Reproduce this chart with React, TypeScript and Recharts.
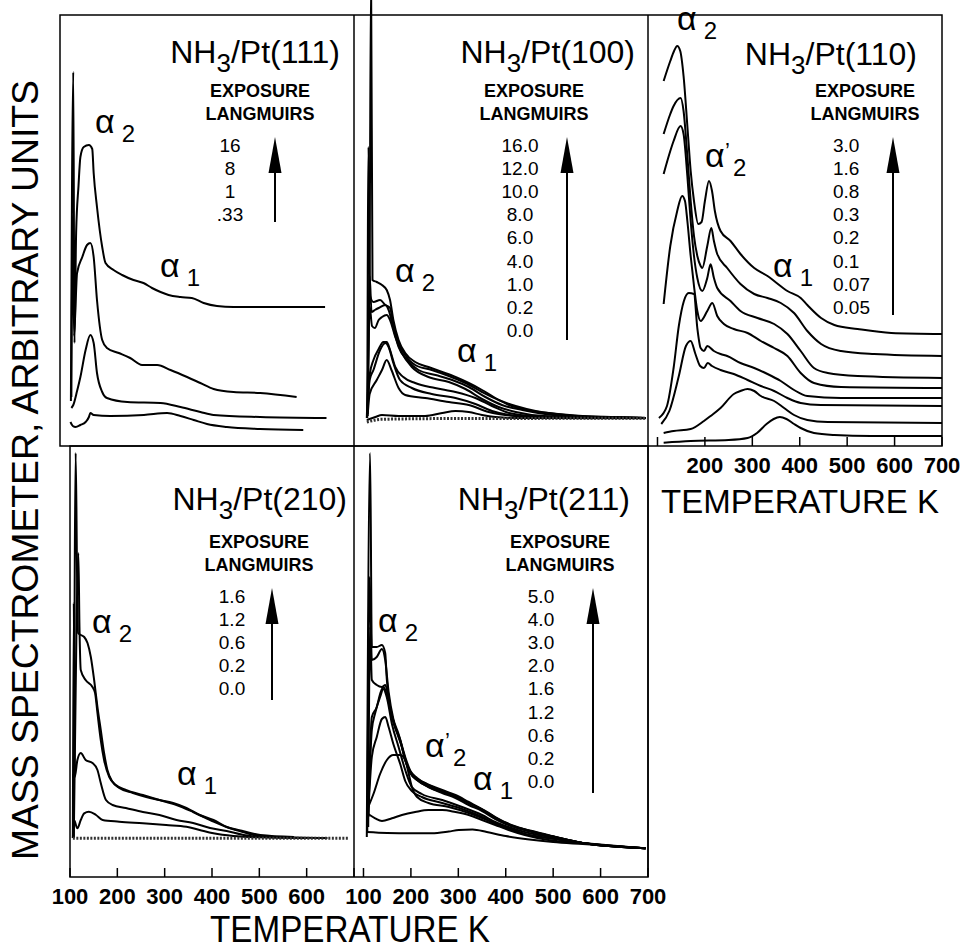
import React from 'react';
import { LineChart, Line, XAxis, YAxis } from 'recharts';

// ---------- tick values ----------
const tempTicks = [100, 200, 300, 400, 500, 600, 700];
const labels110 = [200, 300, 400, 500, 600, 700];
const labels210 = [100, 200, 300, 400, 500, 600];
const labels211 = [100, 200, 300, 400, 500, 600, 700];

// ---------- exposure legends ----------
const exp111 = ['16', '8', '1', '.33'];
const exp100 = ['16.0', '12.0', '10.0', '8.0', '6.0', '4.0', '1.0', '0.2', '0.0'];
const exp110 = ['3.0', '1.6', '0.8', '0.3', '0.2', '0.1', '0.07', '0.05'];
const exp210 = ['1.6', '1.2', '0.6', '0.2', '0.0'];
const exp211 = ['5.0', '4.0', '3.0', '2.0', '1.6', '1.2', '0.6', '0.2', '0.0'];

// ---------- series: [temperature K, signal (arb. units)] ----------
// NH3/Pt(111)
const pt111_16 = [[103,45],[108,374],[110.5,103],[114,213],[119,260],[123,289],[130,299],[141,301],[148,297],[151,273],[158,239],[169,199],[176,183],[193,176],[211,171],[235,166],[256,163],[274,158],[292,154],[309,151],[334,149],[358,148],[383,143],[411,140],[446,139],[502,139],[572,139],[639,139]];
const pt111_8 = [[104,49],[107,230],[109.5,110],[116,173],[127,189],[137,201],[144,203],[151,189],[158,146],[169,106],[179,98],[204,93],[228,88],[253,81],[285,81],[313,76],[348,69],[376,63],[404,57],[446,54],[502,53],[579,49]];
const pt111_1 = [[104,38],[108,41],[116,55],[123,69],[134,96],[144,111],[151,103],[158,73],[169,54],[179,48],[222,44],[292,43],[334,39],[376,34],[404,31],[502,29],[642,28]];
const pt111_033 = [[102,24],[107,20],[113,19],[123,21],[134,24],[141,29],[144,33],[151,31],[186,30],[257,31],[306,33],[334,30],[362,26],[390,22],[432,19],[502,17],[593,16]];

// NH3/Pt(100)
const pt100_16 = [[107,28],[113,200],[116,470],[119,166],[128,164],[139,161],[149,156],[156,146],[163,126],[174,106],[188,93],[209,84],[237,79],[266,74],[294,69],[322,63],[350,56],[378,48],[407,41],[442,36],[491,33],[562,30],[632,29],[695,28]];
const pt100_12 = [[108,28],[110.6,299],[114,150],[121,144],[135,146],[146,141],[156,138],[163,121],[174,103],[188,91],[209,81],[244,76],[280,70],[315,63],[350,54],[385,46],[421,40],[463,35],[526,31],[600,29],[695,28]];
const pt100_10 = [[109,30],[113,170],[117,134],[124,136],[132,138],[146,141],[153,136],[163,118],[174,99],[192,86],[216,76],[252,71],[287,66],[322,59],[357,49],[392,41],[435,36],[500,31],[600,29],[695,28]];
const pt100_8 = [[109,35],[113,140],[118,120],[124,118],[132,126],[139,129],[149,131],[156,126],[167,109],[181,93],[202,79],[237,69],[280,64],[315,57],[350,47],[385,39],[421,34],[480,30],[600,28.5],[695,28]];
const pt100_6 = [[109,40],[113,71],[121,86],[132,97],[142,104],[149,104],[156,96],[167,79],[184,69],[209,63],[251,58],[294,54],[336,48],[371,40],[407,33],[460,30],[600,28.5],[695,28]];
const pt100_4 = [[109,38],[113,66],[121,76],[135,96],[146,103],[153,99],[163,83],[177,66],[202,58],[244,52],[294,48],[336,42],[371,35],[407,31],[460,29],[600,28],[695,28]];
const pt100_1 = [[109,32],[113,52],[128,66],[139,76],[149,86],[159,76],[174,58],[188,51],[230,48],[280,44],[322,41],[364,34],[400,31],[450,29],[695,28]];
const pt100_02 = [[107,26],[125,29],[139,31],[174,30],[230,30],[266,33],[294,35],[322,34],[350,31],[378,29],[420,28],[695,27.7]];
const pt100_0 = [[107,24],[139,26.7],[300,27.5],[695,27.7]];

// NH3/Pt(110)
const pt110_30 = [[113,365],[127,385],[135,395],[141.6,400],[148,395],[155,370],[163,320],[170,275],[177,245],[186,222],[193,224],[200,245],[208.6,265],[215,255],[221,235],[233,215],[254,205],[275,192],[304,178],[332,170],[346,165],[374,155],[402,148],[416,141],[445,128],[473,121],[522,117],[593,113],[702,112]];
const pt110_16 = [[113,312],[127,332],[134,340],[148.7,348],[155,335],[163,290],[170,245],[177,210],[184,190],[191,180],[194.5,178],[205,200],[213.5,218],[219,205],[226,192],[247,178],[275,162],[304,152],[332,148],[360,143],[388,133],[416,115],[445,102],[487,95],[557,92],[702,90]];
const pt110_08 = [[113,272],[127,295],[134,305],[148.7,320],[155,312],[163,270],[170,225],[177,190],[184,168],[194.5,155],[205,168],[212,181.7],[219,168],[226,158],[254,145],[275,135],[311,128],[346,122],[374,112],[402,95],[430,78],[459,73],[522,70],[702,68]];
const pt110_03 = [[113,142],[127,200],[141.6,235],[152,250],[158,245],[163,225],[170,190],[177,160],[184,135],[191,125],[205,135],[215.6,143],[226,130],[240,122],[261,117],[290,113],[318,105],[346,98],[374,90],[402,73],[430,63],[487,59],[702,58]];
const pt110_02 = [[103,28],[120,40],[134,78],[145,120],[155.7,145],[166,153],[177,152],[184,118],[191,98],[198,95],[205,100],[219,95],[233,92],[247,90],[275,83],[304,78],[332,72],[360,65],[388,56],[416,50],[487,48],[702,48]];
const pt110_01 = [[108,22],[125,35],[145,70],[160,100],[170,105],[180,92],[190,80],[198,78],[206,83],[215,80],[233,76],[261,72],[290,66],[318,60],[346,55],[374,48],[402,43],[444,41],[702,40]];
const pt110_007 = [[113,13],[134,15],[170,17],[198,25],[212,30],[233,38],[261,52],[275,55],[290,57],[304,55],[318,50],[346,45],[367,38],[388,31],[416,26],[459,24],[702,23]];
const pt110_005 = [[113,3.3],[170,5],[250,6],[290,8],[310,13],[330,22],[345,27],[358,29],[372,27],[388,22],[402,18],[430,13],[473,11],[550,10],[702,10]];

// NH3/Pt(210)
const pt210_16 = [[108,39],[112,424],[115,300],[117,244],[123,242],[130,240],[137,234],[144,220],[151,197],[158,170],[165,147],[172,124],[179,107],[190,95],[204,89],[233,84],[261,80],[289,77],[318,74],[346,69],[374,62],[403,57],[431,50],[460,45.7],[488,42],[537,40],[644,39]];
const pt210_12 = [[108,39],[114,260],[117.7,324],[120,250],[122.7,207],[133,197],[147.5,190],[153,184],[158,164],[165,137],[172,117],[183,100],[197,92],[218,87],[254,82],[289,77],[325,72],[360,65],[396,57],[431,50],[467,45.7],[502,42],[573,40]];
const pt210_06 = [[106,39],[108,274],[110,100],[115.6,117],[122.7,124],[133,117],[147.5,114],[158,107],[165,94],[176,77],[190,72],[218,69],[254,65],[289,62],[325,57],[360,54],[396,49],[431,46],[467,42],[502,40],[573,39.7]];
const pt210_02 = [[106,39],[108.5,57],[115.6,48.7],[122.7,57],[130,63.7],[140,65.3],[155,62],[169,57],[204,55.3],[254,53.7],[303,52],[346,50.3],[374,47],[403,43.7],[445,41],[502,39.7],[600,39]];
const pt210_0 = [[106,38.7],[300,38.7],[500,38.7],[690,38.7]];

// NH3/Pt(211)
const pt211_50 = [[107,40],[114,424],[117.6,230],[128,230],[138.8,232],[145.8,224],[149.3,197],[156.4,170],[167,150],[177.5,137],[188,117],[198.7,104],[212.8,97],[237.4,90],[265.6,85],[293.8,80],[322,74],[350.2,67],[378.4,59],[399.5,54],[420.7,50],[456,46],[505,40],[562,34],[620,31],[695,28.7]];
const pt211_40 = [[108,45],[113,300],[117.6,217],[128,220],[138.8,228],[145.8,217],[153,185],[163,158],[174,143],[188,120],[199,106],[213,99],[237,92],[266,86],[294,81],[322,74],[350,67.5],[378,59.5],[400,54],[421,50],[456,45],[505,40],[562,34],[695,28.7]];
const pt211_30 = [[110,50],[114,250],[117.6,197],[128,192],[138.8,190],[146,192],[153,178],[160,160],[170,145],[181,130],[192,112],[206,101],[230,94],[266,87],[294,82],[322,75],[350,68],[378,60],[400,54.5],[421,50.5],[456,45.5],[505,40],[562,34],[695,28.7]];
const pt211_20 = [[110,60],[117.6,160],[128,170],[135,183],[142,190],[149,183],[156,168],[167,150],[177.5,136],[188,117],[199,104],[213,97],[237,90],[266,84],[294,79],[322,72],[350,66],[378,58],[400,53],[421,49.5],[456,45],[505,39.5],[562,34],[695,28.7]];
const pt211_16 = [[110,60],[117.6,147],[124.7,164],[135,180],[142,188],[149,180],[160,153],[174,130],[188,107],[202,90],[223,83],[266,77],[308,70],[350,62],[378,55],[406,50],[440,45],[505,39],[562,34],[695,28.7]];
const pt211_12 = [[110,63],[117.6,120],[128,140],[138.8,158],[146,160],[153,150],[163,133],[177.5,113],[188,96],[202,86],[223,80],[266,74],[308,68],[350,60],[378,53],[406,48],[440,43],[505,38],[562,34],[695,28.7]];
const pt211_06 = [[110,70],[121,83],[135,103],[149.3,117],[163,122],[177.5,122],[188,117],[195,104],[202,90],[213,80],[237,74],[280,70],[322,64],[350,59],[378,54],[406,49],[440,43],[505,38],[562,34],[695,28.7]];
const pt211_02 = [[110,63],[124.7,58.7],[139,56],[160,58.7],[181,62],[209,65],[237,67],[266,67],[294,65],[322,62],[350,57],[378,52],[406,47],[440,42],[490,37],[562,34],[695,28.7]];
const pt211_0 = [[107,45],[150,44],[200,43.7],[244,43.7],[280,45.5],[301,47],[330,47.5],[360,45],[400,41],[450,37.5],[500,35],[562,33],[695,28.7]];

const FONT = "'Liberation Sans', Arial, sans-serif";

type Series = { data: number[][]; dashed?: boolean };
const toPts = (arr: number[][]) => arr.map(([t, v]) => ({ t, v }));

const makeTick = (labels: number[]) => (props: any) => {
  const { x, y, payload } = props;
  const show = labels.includes(payload.value);
  return (
    <g>
      <line x1={x} y1={y} x2={x} y2={y - 9} stroke="#000" strokeWidth={1.5} />
      {show && (
        <text x={x} y={y + 27} textAnchor="middle" fontSize={22} fontWeight="bold" fontFamily={FONT} fill="#000">
          {payload.value}
        </text>
      )}
    </g>
  );
};

function Panel(props: {
  left: number; top: number; width: number; plotHeight: number; axisHeight: number;
  xDomain: number[]; yDomain: number[]; series: Series[]; labels: number[];
}) {
  const { left, top, width, plotHeight, axisHeight, xDomain, yDomain, series, labels } = props;
  return (
    <div style={{ position: 'absolute', left, top }}>
      <LineChart width={width} height={plotHeight + axisHeight} margin={{ top: 0, right: 0, bottom: 0, left: 0 }}>
        <XAxis
          type="number"
          dataKey="t"
          domain={xDomain}
          ticks={tempTicks.filter(t => t >= xDomain[0] && t <= xDomain[1])}
          interval={0}
          allowDataOverflow
          height={axisHeight}
          axisLine={false}
          tickLine={false}
          tickSize={0}
          tickMargin={0}
          tick={makeTick(labels)}
        />
        <YAxis type="number" dataKey="v" domain={yDomain} allowDataOverflow hide />
        {series.map((s, i) => (
          <Line
            key={i}
            data={toPts(s.data)}
            dataKey="v"
            type="monotone"
            dot={false}
            activeDot={false}
            stroke={s.dashed ? '#333' : '#000'}
            strokeWidth={s.dashed ? 3 : 2}
            strokeDasharray={s.dashed ? '2 1.5' : undefined}
            isAnimationActive={false}
          />
        ))}
      </LineChart>
    </div>
  );
}

function Title({ x, y, face }: { x: number; y: number; face: string }) {
  return (
    <text x={x} y={y} textAnchor="end" fontSize={32} fontFamily={FONT} fill="#000">
      NH<tspan fontSize={26} dy={9}>3</tspan>
      <tspan dy={-9}>/Pt({face})</tspan>
    </text>
  );
}

function Legend({ cx, y, values, valueX, valueAnchor, arrowX, arrowBottom }: {
  cx: number; y: number; values: string[]; valueX: number; valueAnchor: 'middle' | 'start';
  arrowX: number; arrowBottom: number;
}) {
  const tip = y + 40;
  return (
    <g fontFamily={FONT} fill="#000">
      <text x={cx} y={y} textAnchor="middle" fontSize={18} fontWeight="bold">EXPOSURE</text>
      <text x={cx} y={y + 23} textAnchor="middle" fontSize={18} fontWeight="bold">LANGMUIRS</text>
      {values.map((v, i) => (
        <text key={v + i} x={valueX} y={y + 55 + i * 23.1} textAnchor={valueAnchor} fontSize={19}>{v}</text>
      ))}
      <line x1={arrowX} y1={arrowBottom} x2={arrowX} y2={tip + 30} stroke="#000" strokeWidth={2} />
      <polygon points={`${arrowX},${tip} ${arrowX - 6.5},${tip + 36} ${arrowX + 6.5},${tip + 36}`} fill="#000" />
    </g>
  );
}

function Alpha({ x, y, sub, prime }: { x: number; y: number; sub: string; prime?: boolean }) {
  if (prime) {
    return (
      <text x={x} y={y} fontSize={34} fontFamily={FONT} fill="#000">
        α<tspan fontSize={22} x={x + 20} dy={-9}>’</tspan><tspan fontSize={24} x={x + 28} dy={18}>{sub}</tspan>
      </text>
    );
  }
  return (
    <text x={x} y={y} fontSize={34} fontFamily={FONT} fill="#000">
      α<tspan fontSize={24} dx={7} dy={9}>{sub}</tspan>
    </text>
  );
}

export default function App() {
  const topY = [0, 446];
  const botY = [0, 431];
  return (
    <div style={{ position: 'absolute', left: 0, top: 0, width: 962, height: 951, background: '#fff', overflow: 'hidden' }}>
      <style>{`.recharts-surface{overflow:visible}`}</style>
      <Panel left={60} top={0} width={294} plotHeight={446} axisHeight={0} xDomain={[80, 700]} yDomain={topY} labels={[]}
        series={[{ data: pt111_16 }, { data: pt111_8 }, { data: pt111_1 }, { data: pt111_033 }]} />
      <Panel left={354} top={0} width={294} plotHeight={446} axisHeight={0} xDomain={[80, 700]} yDomain={topY} labels={[]}
        series={[{ data: pt100_16 }, { data: pt100_12 }, { data: pt100_10 }, { data: pt100_8 }, { data: pt100_6 }, { data: pt100_4 }, { data: pt100_1 }, { data: pt100_02 }, { data: pt100_0, dashed: true }]} />
      <Panel left={648} top={0} width={294} plotHeight={446} axisHeight={40} xDomain={[80, 700]} yDomain={topY} labels={labels110}
        series={[{ data: pt110_30 }, { data: pt110_16 }, { data: pt110_08 }, { data: pt110_03 }, { data: pt110_02 }, { data: pt110_01 }, { data: pt110_007 }, { data: pt110_005 }]} />
      <Panel left={70} top={446} width={284} plotHeight={431} axisHeight={40} xDomain={[100, 700]} yDomain={botY} labels={labels210}
        series={[{ data: pt210_16 }, { data: pt210_12 }, { data: pt210_06 }, { data: pt210_02 }, { data: pt210_0, dashed: true }]} />
      <Panel left={354} top={446} width={294} plotHeight={431} axisHeight={40} xDomain={[80, 700]} yDomain={botY} labels={labels211}
        series={[{ data: pt211_50 }, { data: pt211_40 }, { data: pt211_30 }, { data: pt211_20 }, { data: pt211_16 }, { data: pt211_12 }, { data: pt211_06 }, { data: pt211_02 }, { data: pt211_0 }]} />

      <svg width={962} height={951} style={{ position: 'absolute', left: 0, top: 0, pointerEvents: 'none' }}>
        <g fill="none" stroke="#000" strokeWidth={1.5}>
          <rect x={60} y={15} width={882} height={431} />
          <line x1={354} y1={15} x2={354} y2={877} />
          <line x1={648} y1={15} x2={648} y2={877} />
          <rect x={70} y={446} width={578} height={431} />
        </g>

        <Title x={340} y={63} face="111" />
        <Title x={635} y={63} face="100" />
        <Title x={917} y={65} face="110" />
        <Title x={347} y={510} face="210" />
        <Title x={630} y={510} face="211" />

        <Legend cx={260} y={97} values={exp111} valueX={230} valueAnchor="middle" arrowX={275} arrowBottom={222} />
        <Legend cx={534} y={97} values={exp100} valueX={520} valueAnchor="middle" arrowX={567} arrowBottom={340} />
        <Legend cx={865} y={97} values={exp110} valueX={833} valueAnchor="start" arrowX={893} arrowBottom={315} />
        <Legend cx={259} y={548} values={exp210} valueX={232} valueAnchor="middle" arrowX={272} arrowBottom={700} />
        <Legend cx={560} y={548} values={exp211} valueX={541} valueAnchor="middle" arrowX={593} arrowBottom={793} />

        <Alpha x={95} y={133} sub="2" />
        <Alpha x={160} y={277} sub="1" />
        <Alpha x={395} y={282} sub="2" />
        <Alpha x={457} y={362} sub="1" />
        <Alpha x={677} y={30} sub="2" />
        <Alpha x={705} y={167} sub="2" prime />
        <Alpha x={773} y={277} sub="1" />
        <Alpha x={92} y={633} sub="2" />
        <Alpha x={177} y={785} sub="1" />
        <Alpha x={378} y={632} sub="2" />
        <Alpha x={425} y={757} sub="2" prime />
        <Alpha x={473} y={790} sub="1" />

        <text x={800} y={513} textAnchor="middle" fontSize={34} fontFamily={FONT} textLength={278} lengthAdjust="spacingAndGlyphs">TEMPERATURE K</text>
        <text x={350} y={942} textAnchor="middle" fontSize={36} fontFamily={FONT} textLength={280} lengthAdjust="spacingAndGlyphs">TEMPERATURE K</text>
        <text transform="translate(38,470) rotate(-90)" textAnchor="middle" fontSize={37} fontFamily={FONT} textLength={780} lengthAdjust="spacingAndGlyphs">MASS SPECTROMETER, ARBITRARY UNITS</text>
      </svg>
    </div>
  );
}
